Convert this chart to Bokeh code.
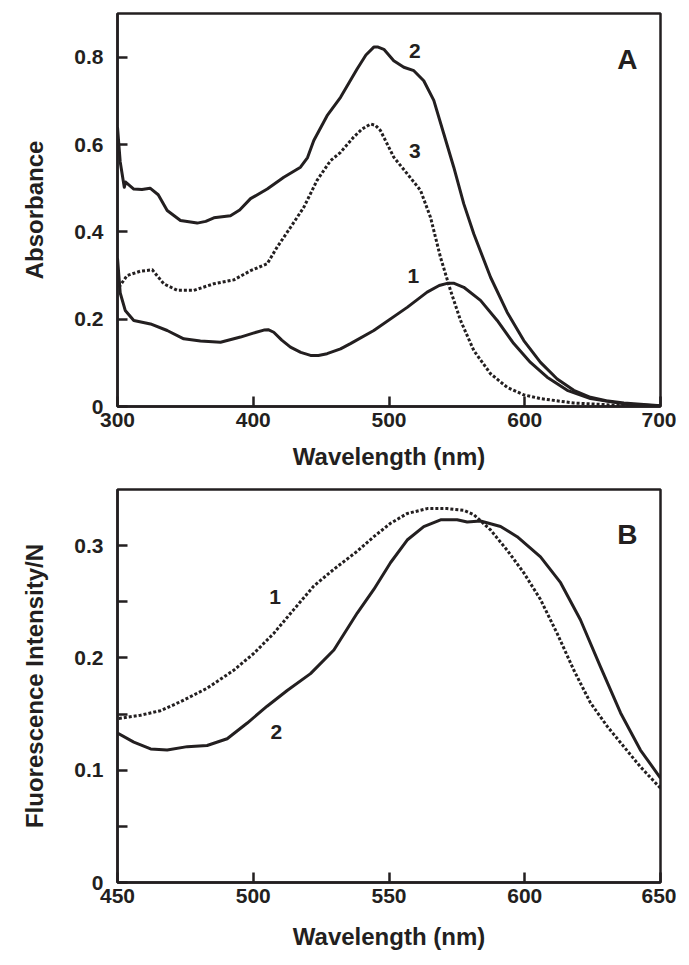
from bokeh.plotting import figure
from bokeh.layouts import column
from bokeh.models import FixedTicker, Range1d
from bokeh.core.properties import value
from bokeh.embed import file_html
from bokeh.resources import INLINE

# ---------------- Panel A data (absorbance) ----------------
a_wl_2 = [300, 302, 305, 306, 312, 318, 324, 330, 336.6, 346.4, 358.7, 365, 371, 383.2, 390, 398,
          410.3, 422.5, 434.8, 440, 444.6, 454.4, 464.3, 476.5, 483, 488.8, 492, 496.2, 503.5,
          510.9, 518.3, 525.6, 533, 540.4, 547.7, 555.1, 562.5, 574.8, 587, 599.3, 611.6, 623.9,
          636.1, 648.4, 660, 673, 700]
a_abs_2 = [0.64, 0.56, 0.502, 0.514, 0.498, 0.497, 0.500, 0.485, 0.449, 0.426, 0.420, 0.424,
           0.432, 0.437, 0.450, 0.476, 0.498, 0.525, 0.548, 0.570, 0.609, 0.666, 0.708, 0.773,
           0.805, 0.823, 0.823, 0.818, 0.792, 0.777, 0.769, 0.746, 0.701, 0.624, 0.548, 0.464,
           0.395, 0.296, 0.216, 0.151, 0.101, 0.063, 0.037, 0.021, 0.013, 0.008, 0.002]

a_wl_1 = [300, 302, 305.7, 312, 324.3, 336.6, 348.8, 361.1, 375.9, 390.6, 400, 407.8, 411, 415.1,
          421, 427.4, 435, 442.2, 448, 454.4, 464.3, 471.6, 488.8, 513.4, 528.1, 537, 542.9, 548,
          555.1, 567.4, 579.7, 591.9, 604.2, 616.5, 631.3, 648.4, 673, 700]
a_abs_1 = [0.34, 0.26, 0.22, 0.197, 0.189, 0.174, 0.155, 0.150, 0.147, 0.159, 0.168, 0.175, 0.176,
           0.170, 0.152, 0.136, 0.124, 0.117, 0.117, 0.121, 0.132, 0.144, 0.174, 0.227, 0.262,
           0.277, 0.282, 0.282, 0.273, 0.243, 0.197, 0.144, 0.101, 0.067, 0.037, 0.018, 0.006,
           0.001]

a_wl_3 = [301, 307.1, 317, 325.6, 334.1, 344, 356.2, 370.9, 385.7, 398, 410.3, 417.6, 427.4, 437.2,
          447, 456.9, 464.3, 474, 480, 486.4, 490, 493.7, 503.5, 513.4, 523.2, 530.6, 537.9, 545.3,
          552.7, 562.5, 574.8, 587, 599, 611.6, 636.1, 673, 700]
a_abs_3 = [0.273, 0.30, 0.31, 0.313, 0.281, 0.266, 0.266, 0.281, 0.290, 0.311, 0.327, 0.365, 0.41,
           0.456, 0.518, 0.563, 0.582, 0.617, 0.635, 0.647, 0.644, 0.632, 0.571, 0.533, 0.495,
           0.433, 0.342, 0.266, 0.197, 0.128, 0.075, 0.044, 0.027, 0.018, 0.008, 0.002, 0.001]

a_label_text = ["2", "3", "1"]
a_label_x = [519, 519, 518]
a_label_y = [0.815, 0.585, 0.298]

# ---------------- Panel B data (fluorescence) ----------------
b_wl_2 = [450, 456, 462.2, 468.3, 475.7, 483, 490.4, 497.8, 505.1, 512.5, 521.1, 529.7, 538.3,
          544.4, 550.6, 556.7, 562.8, 569, 575.1, 578.8, 583.7, 591.1, 597.2, 605.8, 613.2, 620.5,
          627.9, 635.3, 642.6, 650]
b_fl_2 = [0.133, 0.125, 0.119, 0.118, 0.121, 0.122, 0.128, 0.142, 0.157, 0.171, 0.186, 0.207,
          0.240, 0.261, 0.285, 0.305, 0.317, 0.323, 0.323, 0.321, 0.322, 0.317, 0.308, 0.290,
          0.267, 0.234, 0.192, 0.151, 0.118, 0.093]

b_wl_1 = [450.5, 458.5, 465.8, 473.2, 483, 492.8, 500.2, 507.6, 514.9, 522.3, 529.7, 538.3, 544.4,
          550.6, 556.7, 564.1, 571.4, 577.6, 581.2, 587.4, 593.5, 599.6, 605.8, 611.9, 618.1,
          624.2, 630.4, 636.5, 642.6, 650]
b_fl_1 = [0.146, 0.149, 0.153, 0.161, 0.173, 0.189, 0.204, 0.222, 0.243, 0.264, 0.279, 0.295,
          0.308, 0.320, 0.3286, 0.333, 0.333, 0.3315, 0.3277, 0.314, 0.296, 0.276, 0.252, 0.222,
          0.189, 0.160, 0.139, 0.121, 0.103, 0.084]

b_label_text = ["1", "2"]
b_label_x = [508, 508.5]
b_label_y = [0.254, 0.134]

a_xticks = [300, 400, 500, 600, 700]
a_yticks = [0, 0.2, 0.4, 0.6, 0.8]
b_xticks = [450, 500, 550, 600, 650]
b_yticks = [0, 0.1, 0.2, 0.3]
b_yminor = [0.05, 0.15, 0.25]

INK = "#231f20"
FONT = "Liberation Sans"


def style(p, xticks, yticks, yminor, ylabel_overrides, xlabel_standoff):
    p.outline_line_color = INK
    p.outline_line_width = 2.5
    p.outline_line_alpha = 1
    p.grid.visible = False
    p.background_fill_color = "white"
    p.border_fill_color = "white"
    p.xaxis.ticker = FixedTicker(ticks=xticks)
    p.yaxis.ticker = FixedTicker(ticks=yticks, minor_ticks=yminor)
    for ax in (p.xaxis[0], p.yaxis[0]):
        ax.axis_line_color = INK
        ax.axis_line_width = 2.5
        ax.major_tick_line_color = INK
        ax.major_tick_line_width = 2.5
        ax.major_tick_in = 10
        ax.major_tick_out = 0
        ax.minor_tick_line_color = INK
        ax.minor_tick_line_width = 2.5
        ax.minor_tick_in = 10
        ax.minor_tick_out = 0
        ax.major_label_text_font = FONT
        ax.major_label_text_font_style = "bold"
        ax.major_label_text_font_size = "21px"
        ax.major_label_text_color = INK
        ax.axis_label_text_font = FONT
        ax.axis_label_text_font_style = "bold"
        ax.axis_label_text_font_size = "24px"
        ax.axis_label_text_color = INK
    p.xaxis.minor_tick_line_color = None
    p.xaxis.major_label_standoff = 6
    p.xaxis.axis_label_standoff = xlabel_standoff
    p.yaxis.major_label_standoff = 14
    p.yaxis.axis_label_standoff = 23
    p.yaxis.major_label_overrides = ylabel_overrides


# ---------------- Panel A ----------------
pa = figure(frame_width=543, frame_height=393, min_border_left=117, min_border_right=16,
            min_border_top=13, min_border_bottom=70,
            x_range=Range1d(300, 700), y_range=Range1d(0, 0.9),
            output_backend="svg", toolbar_location=None,
            x_axis_label="Wavelength (nm)", y_axis_label="Absorbance")
style(pa, a_xticks, a_yticks, [], {0: "0", 0.2: "0.2", 0.4: "0.4", 0.6: "0.6", 0.8: "0.8"}, 13)

pa.line(a_wl_2, a_abs_2, line_color=INK, line_width=3, line_join="round")
pa.line(a_wl_1, a_abs_1, line_color=INK, line_width=3, line_join="round")
pa.line(a_wl_3, a_abs_3, line_color=INK, line_width=3, line_dash="3 2", line_join="round")

pa.text(x=a_label_x, y=a_label_y, text=a_label_text, text_font=value(FONT),
        text_font_style="bold", text_font_size="21px", text_color=INK,
        text_align="center", text_baseline="middle")
pa.text(x=[683], y=[0.795], text=["A"], text_font=value(FONT), text_font_style="bold",
        text_font_size="28px", text_color=INK, text_align="right", text_baseline="alphabetic")

# ---------------- Panel B ----------------
pb = figure(frame_width=543, frame_height=393, min_border_left=117, min_border_right=16,
            min_border_top=13, min_border_bottom=62,
            x_range=Range1d(450, 650), y_range=Range1d(0, 0.35),
            output_backend="svg", toolbar_location=None,
            x_axis_label="Wavelength (nm)", y_axis_label="Fluorescence Intensity/N")
style(pb, b_xticks, b_yticks, b_yminor, {0: "0", 0.1: "0.1", 0.2: "0.2", 0.3: "0.3"}, 17)

pb.line(b_wl_1, b_fl_1, line_color=INK, line_width=3, line_dash="3 2", line_join="round")
pb.line(b_wl_2, b_fl_2, line_color=INK, line_width=3, line_join="round")

pb.text(x=b_label_x, y=b_label_y, text=b_label_text, text_font=value(FONT),
        text_font_style="bold", text_font_size="21px", text_color=INK,
        text_align="center", text_baseline="middle")
pb.text(x=[641.5], y=[0.31], text=["B"], text_font=value(FONT), text_font_style="bold",
        text_font_size="28px", text_color=INK, text_align="right", text_baseline="alphabetic")

layout = column(pa, pb, spacing=0)
open("out.html", "w").write(file_html(layout, INLINE))
